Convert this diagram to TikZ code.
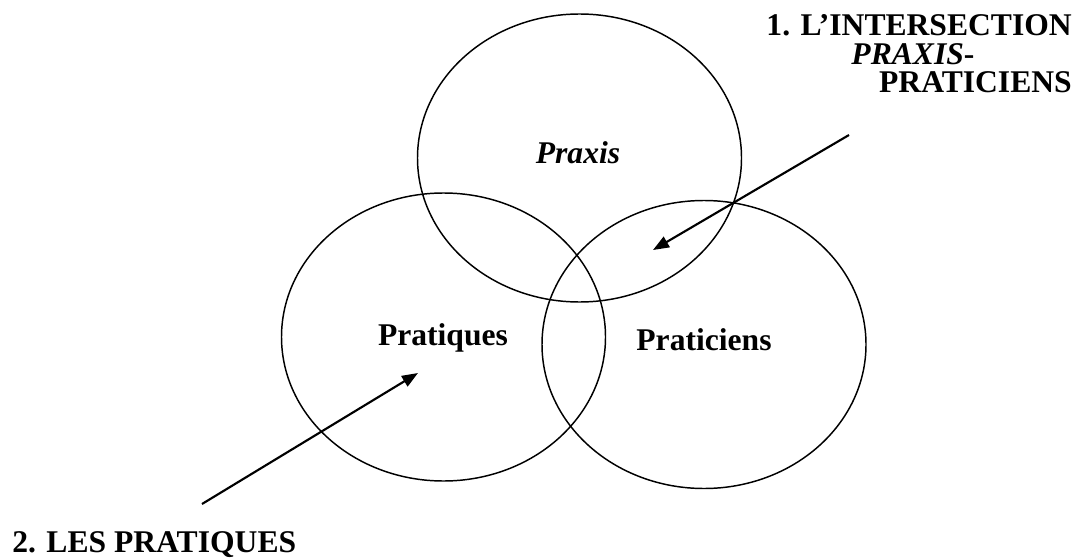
\documentclass[tikz,border=0pt]{standalone}
\usepackage{fontspec}
\setmainfont{Liberation Serif}
\usetikzlibrary{shapes.geometric,arrows.meta}
\tikzset{every picture/.style={>={Triangle[length=12pt,width=9pt]}},
  set/.style={draw,ellipse,line width=1.1pt,minimum width=243pt,minimum height=216pt,inner sep=0pt},
  word/.style={font=\fontsize{23.7}{21.4}\selectfont\bfseries,inner sep=0pt},
  pointer/.style={->,line width=1.6pt}}

\begin{document}
\begin{tikzpicture}[x=0.75pt,y=-0.75pt]
  \useasboundingbox (0,0) rectangle (1078,560);
  \node[set] (praxis) at (579.5,158) {};
  \node[set] (pratiques) at (443.5,337) {};
  \node[set] (praticiens) at (704,344.5) {};
  \node[word,anchor=base] (praxistxt) at (578,163) {\itshape Praxis};
  \node[word,anchor=base] (pratiquestxt) at (443,345) {Pratiques};
  \node[word,anchor=base] (praticienstxt) at (704,350) {Praticiens};
  \node[word,anchor=north east,align=right] (inter) at (1072,14.5)
    {1. L’INTERSECTION\\ {\itshape PRAXIS}-\rule{73pt}{0pt}\\ PRATICIENS};
  \node[word,anchor=base west] (les) at (12,552) {2. LES PRATIQUES};
  \coordinate (from1) at (849,135);
  \coordinate (to1) at (653,250);
  \coordinate (from2) at (202,504);
  \coordinate (to2) at (418,373);
  \draw [pointer] (from1) -- (to1);
  \draw [pointer] (from2) -- (to2);
\end{tikzpicture}
\end{document}
